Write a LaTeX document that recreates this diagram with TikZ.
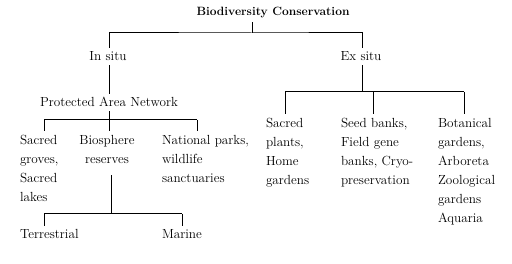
\documentclass[tikz,border=0pt]{standalone}
\begin{document}
\begin{tikzpicture}[x=1pt,y=-1pt,
  txt/.style={inner sep=0pt, outer sep=4pt, font=\fontsize{13.2}{19}\selectfont},
  ln/.style={line width=1pt}]
\useasboundingbox (0,0) rectangle (512,264);
% nodes
\node[txt, font=\bfseries\fontsize{12}{14}\selectfont, anchor=base] (title) at (273,16) {Biodiversity Conservation};
\node[txt, anchor=base] (insitu) at (108,61) {In situ};
\node[txt, anchor=base] (exsitu) at (361,61) {Ex situ};
\node[txt, anchor=base] (pan) at (109,107) {Protected\ Area\ Network};
\node[txt, anchor=north west, align=left] (sg) at (16,131) {Sacred\\groves,\\Sacred\\lakes};
\node[txt, anchor=north, align=center] (br) at (107,131) {Biosphere\\reserves};
\node[txt, anchor=north west, align=left] (np) at (158,131) {National parks,\\wildlife\\sanctuaries};
\node[txt, anchor=base west] (ter) at (16,239) {Terrestrial};
\node[txt, anchor=base west] (mar) at (158,239) {Marine};
\node[txt, anchor=north west, align=left] (sp) at (262,114) {Sacred\\plants,\\Home\\gardens};
\node[txt, anchor=north west, align=left] (sb) at (337,114) {Seed banks,\\Field gene\\banks, Cryo-\\preservation};
\node[txt, anchor=north west, align=left] (bg) at (434,114) {Botanical\\gardens,\\Arboreta\\Zoological\\gardens\\Aquaria};
% junction coordinates
\coordinate (t1) at (252,33);
\coordinate (p1) at (109,120);
\coordinate (pb1) at (44,120);
\coordinate (pb3) at (197,120);
\coordinate (e1) at (362,92);
\coordinate (eb1) at (285,92);
\coordinate (eb2) at (373,92);
\coordinate (eb3) at (464,92);
\coordinate (b1) at (111,214);
\coordinate (bb1) at (44,214);
\coordinate (bb3) at (182,214);
% connectors
\draw[ln] (title.south -| t1) -- (t1);
\draw[ln] (insitu.north -| 109,0) |- (t1) -| (exsitu.north -| e1);
\draw[ln] (insitu.south -| 109,0) -- (pan.north);
\draw[ln] (pan.south) -- (p1);
\draw[ln] (pb1) -- (pb3);
\draw[ln] (pb1) -- (pb1 |- sg.north);
\draw[ln] (p1) -- (p1 |- br.north);
\draw[ln] (pb3) -- (pb3 |- np.north);
\draw[ln] (exsitu.south -| e1) -- (e1);
\draw[ln] (eb1) -- (eb3);
\draw[ln] (eb1) -- (eb1 |- sp.north);
\draw[ln] (eb2) -- (eb2 |- sb.north);
\draw[ln] (eb3) -- (eb3 |- bg.north);
\draw[ln] (br.south -| b1) ++(0,8) -- (b1);
\draw[ln] (bb1) -- (bb3);
\draw[ln] (bb1) -- (bb1 |- ter.north);
\draw[ln] (bb3) -- (bb3 |- mar.north);
\end{tikzpicture}
\end{document}
